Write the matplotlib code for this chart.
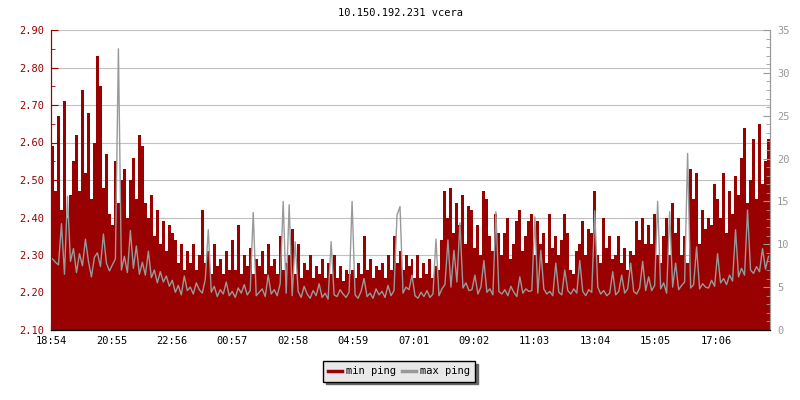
import numpy as np
import matplotlib.pyplot as plt
from matplotlib.lines import Line2D

# ping for one day, one sample per 6 minutes starting at 18:54
min_ping = [
    2.59, 2.47, 2.67, 2.42, 2.71, 2.40, 2.46, 2.55, 2.62, 2.47,
    2.74, 2.52, 2.68, 2.45, 2.60, 2.83, 2.75, 2.48, 2.57, 2.41,
    2.38, 2.55, 2.44, 2.50, 2.53, 2.40, 2.50, 2.56, 2.45, 2.62,
    2.59, 2.44, 2.40, 2.46, 2.35, 2.42, 2.33, 2.39, 2.31, 2.38,
    2.36, 2.34, 2.28, 2.33, 2.26, 2.31, 2.28, 2.33, 2.26, 2.30,
    2.42, 2.28, 2.31, 2.25, 2.33, 2.27, 2.29, 2.25, 2.31, 2.26,
    2.34, 2.26, 2.38, 2.25, 2.30, 2.27, 2.32, 2.25, 2.29, 2.27,
    2.31, 2.25, 2.33, 2.27, 2.29, 2.25, 2.35, 2.26, 2.28, 2.30,
    2.37, 2.25, 2.33, 2.24, 2.28, 2.26, 2.30, 2.24, 2.27, 2.25,
    2.29, 2.24, 2.28, 2.25, 2.30, 2.24, 2.27, 2.23, 2.26, 2.25,
    2.26, 2.24, 2.28, 2.25, 2.35, 2.26, 2.29, 2.24, 2.27, 2.26,
    2.28, 2.24, 2.30, 2.26, 2.35, 2.28, 2.31, 2.26, 2.30, 2.27,
    2.29, 2.24, 2.30, 2.24, 2.28, 2.25, 2.29, 2.24, 2.27, 2.26,
    2.34, 2.47, 2.40, 2.48, 2.36, 2.44, 2.38, 2.46, 2.33, 2.43,
    2.42, 2.32, 2.38, 2.30, 2.47, 2.45, 2.35, 2.31, 2.41, 2.36,
    2.30, 2.36, 2.40, 2.29, 2.33, 2.39, 2.42, 2.31, 2.35, 2.39,
    2.41, 2.30, 2.39, 2.33, 2.36, 2.28, 2.41, 2.32, 2.35, 2.30,
    2.34, 2.41, 2.36, 2.26, 2.25, 2.31, 2.33, 2.39, 2.30, 2.37,
    2.36, 2.47, 2.30, 2.28, 2.40, 2.32, 2.35, 2.29, 2.30, 2.35,
    2.28, 2.32, 2.26, 2.31, 2.30, 2.39, 2.34, 2.40, 2.33, 2.38,
    2.33, 2.41, 2.30, 2.28, 2.35, 2.40, 2.30, 2.44, 2.36, 2.40,
    2.30, 2.35, 2.28, 2.53, 2.45, 2.52, 2.33, 2.42, 2.37, 2.40,
    2.38, 2.49, 2.45, 2.40, 2.52, 2.36, 2.47, 2.41, 2.51, 2.46,
    2.56, 2.64, 2.44, 2.50, 2.61, 2.45, 2.65, 2.49, 2.55, 2.61,
]

max_ping = [
    8.3, 7.9, 7.6, 12.4, 6.5, 15.6, 8.0, 9.5, 6.7, 8.9,
    7.5, 10.6, 8.0, 6.2, 8.5, 9.0, 7.4, 11.2, 7.8, 6.9,
    7.6, 8.3, 32.8, 7.0, 8.6, 6.7, 11.6, 7.2, 9.8, 6.5,
    7.9, 6.4, 9.2, 6.1, 7.0, 5.5, 6.8, 5.6, 6.3, 5.1,
    5.8, 4.4, 5.2, 4.1, 6.3, 4.6, 5.0, 4.2, 5.5, 4.7,
    4.3, 5.9, 11.7, 4.4, 5.1, 3.9, 4.7, 4.2, 5.6, 4.0,
    4.5, 3.8, 4.9, 4.3, 5.3, 4.1, 4.6, 13.7, 4.0, 4.4,
    4.8, 3.9, 6.4, 4.2, 4.7, 4.0, 5.4, 15.0, 4.3, 14.6,
    4.0, 10.3, 4.5, 3.8, 5.1, 4.2, 3.7, 4.6, 4.0, 5.4,
    3.8, 4.3, 3.6, 10.3, 4.1, 3.9, 4.7, 4.2, 3.8, 4.4,
    15.0, 4.1, 3.7, 4.5, 6.0, 3.9, 4.3, 3.7, 4.8, 4.1,
    4.5, 3.8, 5.2, 4.0, 4.6, 13.4, 14.4, 4.3, 5.0, 4.7,
    6.4, 4.0, 3.7, 4.4, 3.9, 4.6, 3.8, 4.2, 10.6, 4.0,
    4.8, 5.3, 10.5, 5.0, 9.3, 5.6, 12.5, 4.9, 5.5, 4.6,
    4.7, 6.4, 4.2, 5.0, 8.1, 4.4, 4.8, 4.1, 13.8, 4.5,
    4.2, 4.7, 4.0, 5.1, 4.4, 3.9, 6.2, 4.3, 4.8, 4.5,
    4.6, 13.2, 4.3, 9.3, 4.8, 4.2, 4.5, 4.0, 7.8, 4.4,
    4.1, 7.0, 4.6, 4.2, 4.8, 4.3, 8.1, 4.5, 4.0, 4.7,
    4.4, 13.9, 5.0, 4.2, 4.6, 4.0, 4.3, 6.8, 4.1, 4.5,
    6.4, 4.3, 4.8, 7.8, 4.5, 4.2, 4.9, 8.0, 4.6, 6.2,
    4.6, 5.2, 15.0, 4.8, 5.5, 4.3, 13.8, 5.0, 7.8, 4.7,
    5.2, 5.6, 20.6, 4.9, 5.3, 9.7, 4.8, 5.4, 5.0, 4.9,
    5.8, 5.1, 8.9, 5.5, 6.0, 5.3, 6.4, 5.7, 11.7, 6.2,
    7.2, 6.4, 14.0, 7.0, 6.6, 7.4, 6.8, 9.5, 7.1, 8.6,
]

time_labels = ["18:54", "20:55", "22:56", "00:57", "02:58", "04:59",
               "07:01", "09:02", "11:03", "13:04", "15:05", "17:06"]

RED = "#990000"
GREY = "#999999"
plt.rcParams["font.family"] = "DejaVu Sans Mono"
plt.rcParams["font.size"] = 7.5

fig = plt.figure(figsize=(8, 4), dpi=100)
ax = fig.add_axes([51 / 800, 70 / 400, 719 / 800, 300 / 400])
ax2 = ax.twinx()

step = 6  # minutes per sample
edges = np.arange(len(min_ping) + 1) * step
mids = edges[:-1] + step / 2

ax.stairs(min_ping, edges, baseline=2.10, fill=True, color=RED, lw=0)
ax2.plot(mids, max_ping, color=GREY, lw=1.0)

ax.set_xlim(0, edges[-1])
ax.set_ylim(2.10, 2.90)
ax2.set_ylim(0, 35)

ax.set_yticks(np.arange(2.10, 2.91, 0.10))
ax.set_yticks(np.arange(2.15, 2.90, 0.10), minor=True)
ax.set_yticklabels(["%.2f" % v for v in np.arange(2.10, 2.91, 0.10)])
ax2.set_yticks(np.arange(0, 36, 5))
ax2.set_yticks(np.arange(0, 36, 1), minor=True)

ax.set_xticks(np.arange(len(time_labels)) * 121.1)
ax.set_xticklabels(time_labels)

ax.grid(axis="y", color="#c0c0c0", lw=0.8)
ax.set_axisbelow(True)

ax.tick_params(axis="y", which="major", direction="in", length=5, color=RED,
               labelcolor=RED, pad=5)
ax.tick_params(axis="y", which="minor", direction="in", length=3, color=RED)
ax.tick_params(axis="x", direction="in", length=5, color="black", pad=4)
ax2.tick_params(axis="y", which="major", direction="in", length=5, color=GREY,
                labelcolor=GREY, pad=5)
ax2.tick_params(axis="y", which="minor", direction="in", length=3, color=GREY)

for a in (ax, ax2):
    a.spines["top"].set_visible(False)
    a.spines["left"].set_color(RED)
    a.spines["right"].set_color(GREY)
    a.spines["bottom"].set_color("black")

fig.text(0.5, 1 - 13 / 400, "10.150.192.231 vcera", ha="center", va="center")

handles = [Line2D([], [], color=RED, lw=2.5), Line2D([], [], color=GREY, lw=2.5)]
leg = fig.legend(handles, ["min ping", "max ping"], loc="center",
                 bbox_to_anchor=(0.499, 1 - 371.5 / 400), ncol=2,
                 fancybox=False, edgecolor="black", facecolor="#e8e8e8",
                 framealpha=1, shadow={"color": "#666666", "alpha": 1},
                 handlelength=1.3, handletextpad=0.4, columnspacing=0.6,
                 borderpad=0.5, fontsize=7.5)
leg.get_frame().set_linewidth(1.0)

fig.savefig("out.png", dpi=100)
